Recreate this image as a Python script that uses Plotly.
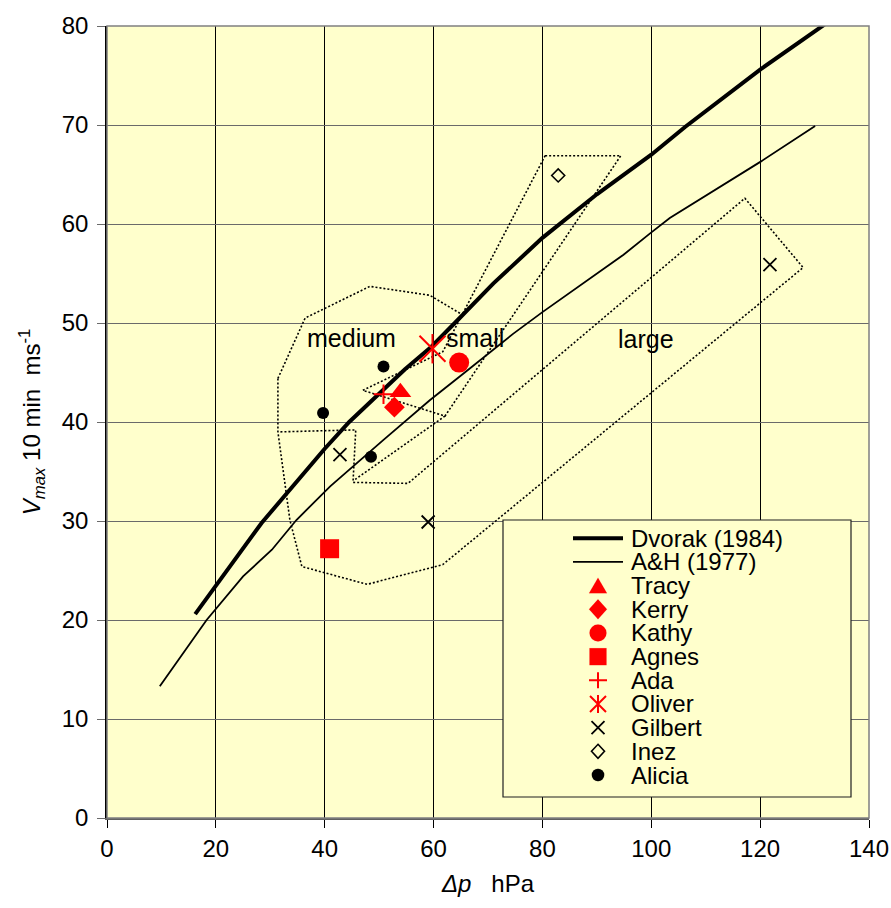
import plotly.graph_objects as go

# ---------------- data ----------------
dvorak_dp = [16.2, 19.9, 28.4, 40.0, 44.5, 54.7, 59.6, 63.9, 71.0, 80.0, 90.0, 100.0, 106.2, 120.0, 135.6]
dvorak_v = [20.6, 23.4, 29.8, 37.3, 40.0, 45.3, 47.6, 50.0, 54.0, 58.6, 63.0, 67.0, 69.8, 75.6, 81.6]

ah_dp = [9.7, 18.3, 25.0, 30.3, 34.8, 41.0, 50.8, 59.3, 65.5, 74.6, 80.0, 94.9, 99.9, 103.4, 120.1, 126.1, 130.1]
ah_v = [13.3, 20.0, 24.4, 27.1, 30.1, 33.5, 38.2, 42.2, 44.9, 48.9, 51.1, 56.9, 59.1, 60.6, 66.3, 68.5, 69.9]

tracy_dp, tracy_v = [53.9], [43.0]
kerry_dp, kerry_v = [52.8], [41.5]
kathy_dp, kathy_v = [64.7], [46.0]
agnes_dp, agnes_v = [40.9], [27.2]
ada_dp, ada_v = [50.8], [42.8]
oliver_dp, oliver_v = [59.8], [47.4]
gilbert_dp, gilbert_v = [42.8, 59.0, 121.8], [36.7, 29.9, 55.9]
inez_dp, inez_v = [82.9], [64.9]
alicia_dp, alicia_v = [50.8, 39.7, 48.5], [45.6, 40.9, 36.5]

# dotted envelopes
env_top_dp = [31.4, 36.4, 48.3, 59.3, 65.4]
env_top_v = [44.4, 50.5, 53.7, 52.8, 50.8]

env_small_dp = [80.5, 94.4, 62.1, 47.0, 61.7, 80.5]
env_small_v = [66.9, 66.9, 40.6, 43.2, 47.1, 66.9]

env_link_dp = [62.1, 45.6]
env_link_v = [40.6, 34.2]

env_big_dp = [31.4, 31.4, 33.6, 35.8, 47.8, 61.7, 127.9, 117.2, 55.3, 45.2, 45.7, 31.4]
env_big_v = [44.4, 39.0, 30.1, 25.4, 23.6, 25.6, 55.6, 62.6, 33.8, 33.9, 39.2, 39.0]

region_labels = ["medium", "small", "large"]
region_dp = [45.0, 67.6, 99.0]
region_v = [48.5, 48.5, 48.4]

legend_names = ["Dvorak (1984)", "A&amp;H (1977)", "Tracy", "Kerry", "Kathy", "Agnes",
                "Ada", "Oliver", "Gilbert", "Inez", "Alicia"]

x_ticks = [0, 20, 40, 60, 80, 100, 120, 140]
y_ticks = [0, 10, 20, 30, 40, 50, 60, 70, 80]

# ---------------- styling ----------------
FONT = "Liberation Sans, Arial, sans-serif"
RED = "#FF0000"
BG = "#FFFFCC"

fig = go.Figure()

dot = dict(color="black", width=1.6, dash="2px,2px")
for xs, ys in [(env_top_dp, env_top_v), (env_small_dp, env_small_v),
               (env_link_dp, env_link_v), (env_big_dp, env_big_v)]:
    fig.add_trace(go.Scatter(x=xs, y=ys, mode="lines", line=dot,
                             showlegend=False, hoverinfo="skip"))

fig.add_trace(go.Scatter(x=ah_dp, y=ah_v, mode="lines",
                         line=dict(color="black", width=1.8), showlegend=False))
fig.add_trace(go.Scatter(x=dvorak_dp, y=dvorak_v, mode="lines",
                         line=dict(color="black", width=4), showlegend=False))

def mk(xs, ys, symbol, size, color, lw=0, open_=False):
    m = dict(symbol=symbol, size=size, color=color)
    if open_:
        m["line"] = dict(color=color, width=lw)
    else:
        m["line"] = dict(width=0)
    fig.add_trace(go.Scatter(x=xs, y=ys, mode="markers", marker=m,
                             showlegend=False, cliponaxis=False))

mk(alicia_dp, alicia_v, "circle", 12, "black")
mk(gilbert_dp, gilbert_v, "x-thin", 13, "black", 1.8, True)
mk(inez_dp, inez_v, "diamond-open", 10, "black", 1.6, True)
mk(agnes_dp, agnes_v, "square", 19, RED)
mk(kathy_dp, kathy_v, "circle", 20, RED)
mk(kerry_dp, kerry_v, "diamond", 16, RED)
mk(tracy_dp, tracy_v, "triangle-up", 19, RED)
mk(ada_dp, ada_v, "cross-thin", 14, RED, 2, True)
mk(oliver_dp, oliver_v, "x-thin", 26, RED, 2, True)
mk(oliver_dp, oliver_v, "line-ns", 21, RED, 2, True)

# ---------------- manual legend (paper fractions of the plot area) ----------------
L, R, T, B = 107, 869, 26, 818
def fx(px):
    return (px - L) / (R - L)
def fy(py):
    return (B - py) / (B - T)

row_y = [fy(538.3 + 23.67 * i) for i in range(len(legend_names))]
mx = fx(598)
lx0, lx1 = fx(573), fx(623)
tx = fx(629)

shapes = [
    # legend box (covers grid)
    dict(type="rect", xref="paper", yref="paper", x0=fx(503), x1=fx(851),
         y0=fy(797), y1=fy(520), fillcolor=BG, line=dict(color="#202020", width=1.2),
         layer="above"),
    # plot-area border
    dict(type="rect", xref="paper", yref="paper", x0=0, x1=1, y0=0, y1=1,
         line=dict(color="#808080", width=1.5), fillcolor="rgba(0,0,0,0)", layer="above"),
]

def lg_line(i, width):
    shapes.append(dict(type="line", xref="paper", yref="paper", x0=lx0, x1=lx1,
                       y0=row_y[i], y1=row_y[i], line=dict(color="black", width=width),
                       layer="above"))

def lg_path(i, path, color, fill=True, lw=0):
    shapes.append(dict(type="path", xref="paper", yref="paper",
                       xsizemode="pixel", ysizemode="pixel", xanchor=mx, yanchor=row_y[i],
                       path=path, fillcolor=color if fill else "rgba(0,0,0,0)",
                       line=dict(color=color, width=lw if lw else 0.1), layer="above"))

def lg_circle(i, d, color):
    r = d / 2
    shapes.append(dict(type="circle", xref="paper", yref="paper",
                       xsizemode="pixel", ysizemode="pixel", xanchor=mx, yanchor=row_y[i],
                       x0=-r, x1=r, y0=-r, y1=r, fillcolor=color,
                       line=dict(color=color, width=0.1), layer="above"))

lg_line(0, 4)
lg_line(1, 1.8)
lg_path(2, "M-9,-7.5 L9,-7.5 L0,8 Z", RED)
lg_path(3, "M0,10 L9,0 L0,-10 L-9,0 Z", RED)
lg_circle(4, 17, RED)
lg_path(5, "M-8.5,-8.5 L8.5,-8.5 L8.5,8.5 L-8.5,8.5 Z", RED)
lg_path(6, "M-9,0 L9,0 M0,-8 L0,8", RED, fill=False, lw=2)
lg_path(7, "M-8,-8 L8,8 M-8,8 L8,-8 M0,-9 L0,9", RED, fill=False, lw=2)
lg_path(8, "M-6.5,-6.5 L6.5,6.5 M-6.5,6.5 L6.5,-6.5", "black", fill=False, lw=1.8)
lg_path(9, "M0,7 L6.5,0 L0,-7 L-6.5,0 Z", "black", fill=False, lw=1.6)
lg_circle(10, 12.5, "black")

annotations = []
for i, name in enumerate(legend_names):
    annotations.append(dict(x=tx, y=row_y[i], xref="paper", yref="paper", text=name,
                            showarrow=False, xanchor="left", yanchor="middle",
                            font=dict(family=FONT, size=24, color="black")))
for lab, xv, yv in zip(region_labels, region_dp, region_v):
    annotations.append(dict(x=xv, y=yv, xref="x", yref="y", text=lab, showarrow=False,
                            xanchor="center", yanchor="middle",
                            font=dict(family=FONT, size=25, color="black")))

fig.update_layout(
    width=891, height=908,
    margin=dict(l=L, r=891 - R, t=T, b=908 - B),
    paper_bgcolor="white",
    plot_bgcolor=BG,
    font=dict(family=FONT, size=24, color="black"),
    showlegend=False,
    annotations=annotations,
    shapes=shapes,
    xaxis=dict(range=[0, 140], tickvals=x_ticks, showgrid=True, gridcolor="black",
               gridwidth=1, zeroline=False, ticks="outside", ticklen=8, tickwidth=1,
               tickcolor="black", showline=True, linecolor="#606060", linewidth=2,
               automargin=False,
               tickfont=dict(family=FONT, size=24),
               title=dict(text="<i>Δp</i>\u00a0\u00a0 hPa", standoff=14,
                          font=dict(family=FONT, size=24))),
    yaxis=dict(range=[0, 80], tickvals=y_ticks, showgrid=True, gridcolor="#6a6a6a",
               gridwidth=1, zeroline=False, ticks="outside", ticklen=8, tickwidth=1,
               tickcolor="#6a6a6a", showline=True, linecolor="black", linewidth=1.5,
               automargin=False,
               tickfont=dict(family=FONT, size=24), ticklabelstandoff=4,
               title=dict(text="<i>V<sub>max</sub></i> 10 min\u00a0 ms<sup>-1</sup>",
                          standoff=14, font=dict(family=FONT, size=24))),
)

fig.write_html("out.html")
